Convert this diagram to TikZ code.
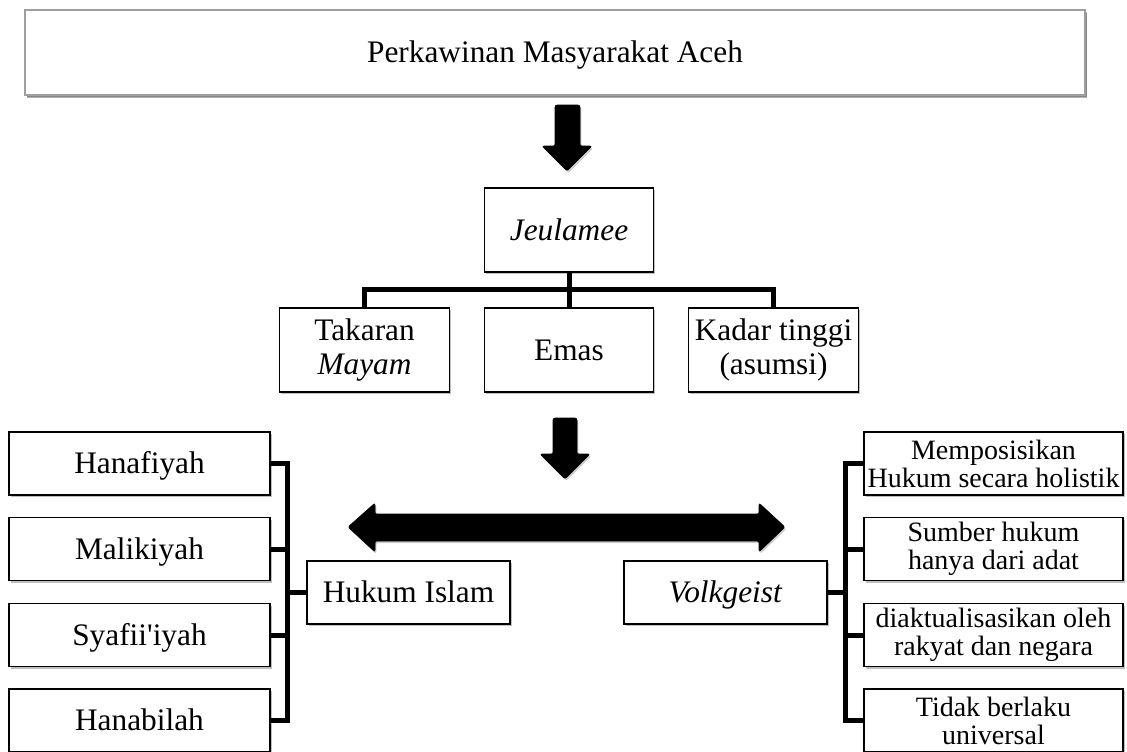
\documentclass[tikz,border=0pt]{standalone}
\usepackage{fontspec}
\setmainfont{Liberation Serif}
\usetikzlibrary{shadows,calc}
\begin{document}
\begin{tikzpicture}[x=0.75pt,y=-0.75pt,
  box/.style={draw=black,line width=0.8pt,fill=white,inner sep=0pt,align=center,
    font=\fontsize{23.5}{25}\selectfont,
    drop shadow={shadow xshift=1.2pt,shadow yshift=-1.8pt,fill=black,opacity=0.25}},
  single/.style={text height=15.6pt,text depth=0pt},
  lbox/.style={box,single,minimum width=195.75pt,minimum height=47.25pt},
  cbox/.style={box,single,minimum width=152.25pt,minimum height=47.25pt},
  rbox/.style={box,minimum width=194.25pt,minimum height=47.25pt,font=\fontsize{21}{21}\selectfont},
  mbox/.style={box,minimum width=127pt,minimum height=63pt},
  topbox/.style={box,single,draw=gray!75,line width=1pt,minimum width=795pt,minimum height=63.75pt,
    drop shadow={shadow xshift=1.5pt,shadow yshift=-2pt,fill=black,opacity=0.3}},
  conn/.style={line width=3.75pt},
  blockarrow/.style={fill=black,rounded corners=1.5pt,
    drop shadow={shadow xshift=1pt,shadow yshift=-1.5pt,fill=black,opacity=0.2}}]
\path[use as bounding box] (0,0) rectangle (1127,751);

% top
\node[topbox] (top) at (555,52.5) {Perkawinan Masyarakat Aceh};

% arrow 1
\filldraw[blockarrow] (555,105) -- (580,105) -- (580,146) -- (592,146) -- (567,171)
  -- (542,146) -- (555,146) -- cycle;

% Jeulamee tree
\node[mbox,single] (jeul) at (569,230) {\textit{Jeulamee}};
\node[mbox] (tak) at (364.5,350) {Takaran\\\textit{Mayam}};
\node[mbox,single] (emas) at (569,350) {Emas};
\node[mbox] (kadar) at (773.5,350) {Kadar tinggi\\(asumsi)};

\draw[conn] (jeul.south) -- (emas.north);
\draw[conn] (tak.north) -- ++(0,-18) -| (kadar.north);

% arrow 2
\filldraw[blockarrow] (553,418) -- (577,418) -- (577,454) -- (590,454) -- (565,479)
  -- (540,454) -- (553,454) -- cycle;

% double arrow
\filldraw[blockarrow] (348,527) -- (375,503) -- (375,514) -- (759,514) -- (759,503)
  -- (785,527) -- (759,552) -- (759,541) -- (375,541) -- (375,552) -- cycle;

% left side
\node[lbox] (hanafi) at (139.5,463.5) {Hanafiyah};
\node[lbox] (maliki) at (139.5,549) {Malikiyah};
\node[lbox] (syafii) at (139.5,635) {Syafii\textquotesingle iyah};
\node[lbox] (hanabi) at (139.5,720.5) {Hanabilah};
\node[cbox] (hukum) at (408.5,592.5) {Hukum Islam};

\coordinate (lbus) at (287,0);
\draw[conn] (hanafi.east) -- (hanafi.east -| lbus);
\draw[conn] (maliki.east) -- (maliki.east -| lbus);
\draw[conn] (syafii.east) -- (syafii.east -| lbus);
\draw[conn] (hanabi.east) -- (hanabi.east -| lbus);
\draw[conn,line cap=rect] (hanafi.east -| lbus) -- (hanabi.east -| lbus);
\draw[conn] (hukum.west) -- (hukum.west -| lbus);

% right side
\node[cbox] (volk) at (725.5,592.5) {\textit{Volkgeist}};
\node[rbox] (r1) at (993.5,463.5) {Memposisikan\\Hukum secara holistik};
\node[rbox] (r2) at (993.5,549) {Sumber hukum\\hanya dari adat};
\node[rbox] (r3) at (993.5,635) {diaktualisasikan oleh\\rakyat dan negara};
\node[rbox] (r4) at (993.5,720.5) {Tidak berlaku\\universal};

\coordinate (rbus) at (845,0);
\draw[conn] (r1.west) -- (r1.west -| rbus);
\draw[conn] (r2.west) -- (r2.west -| rbus);
\draw[conn] (r3.west) -- (r3.west -| rbus);
\draw[conn] (r4.west) -- (r4.west -| rbus);
\draw[conn,line cap=rect] (r1.west -| rbus) -- (r4.west -| rbus);
\draw[conn] (volk.east) -- (volk.east -| rbus);
\end{tikzpicture}
\end{document}
